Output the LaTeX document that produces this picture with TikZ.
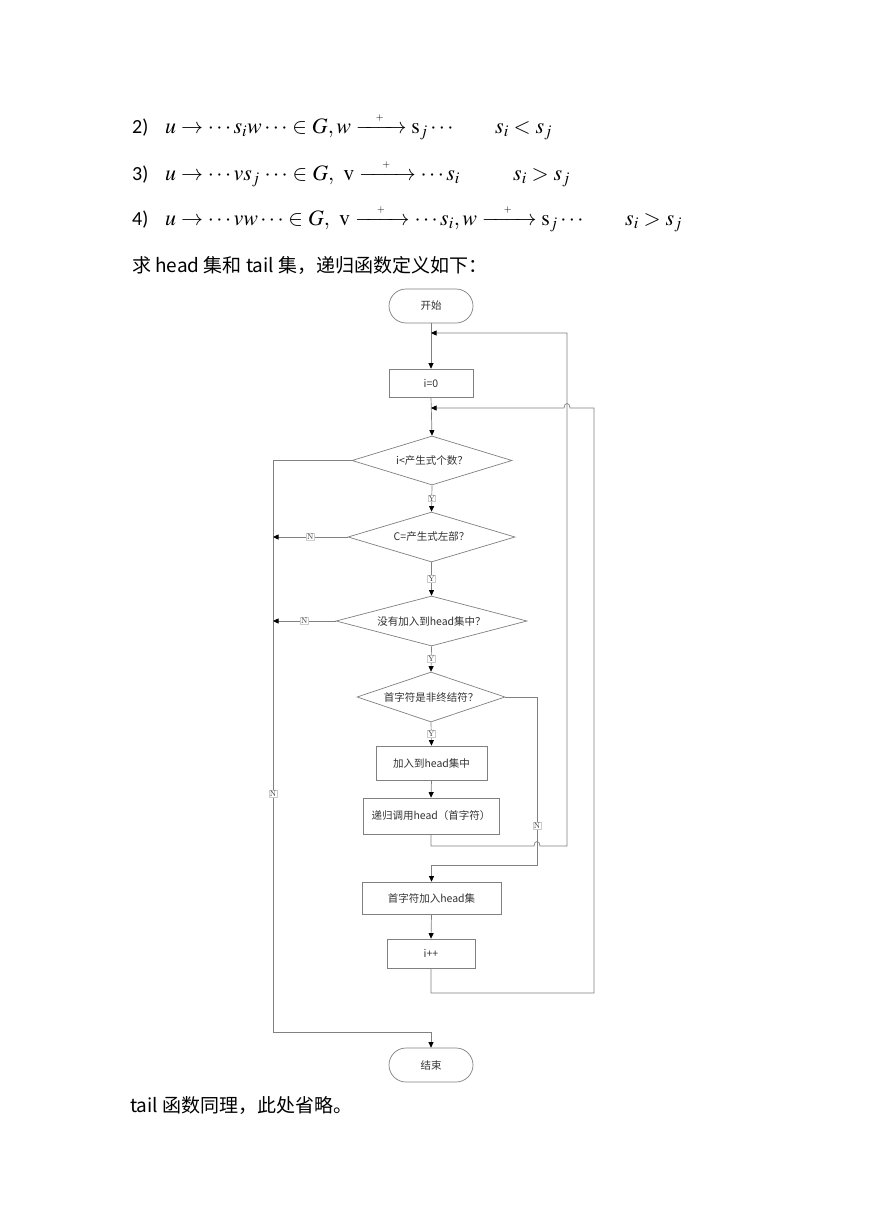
\documentclass[tikz,border=0pt]{standalone}
\usepackage{amsmath}
\usepackage{mathptmx}
\usepackage{fontspec}
\usetikzlibrary{shapes.geometric,arrows.meta}
\newfontfamily\cjk{Noto Sans CJK SC}
\newfontfamily\lat{Carlito}
\definecolor{linegray}{HTML}{808080}
\definecolor{dark}{HTML}{333333}
\newcommand{\plusarrow}[1]{\mathrel{\xrightarrow{\makebox[#1]{\fontsize{10}{10}\selectfont$+$}}}}
\begin{document}
\begin{tikzpicture}[x=1pt,y=-1pt,
  flow/.style={draw=linegray, line width=0.7pt},
  arr/.style={flow, -{Triangle[length=5.5pt,width=5pt,color=black]}},
  proc/.style={draw=linegray, line width=0.7pt, inner sep=0pt, font=\cjk\fontsize{10.5}{12}\selectfont, text=dark},
  term/.style={proc, rounded corners=17pt, minimum width=84pt, minimum height=34pt},
  dec/.style={proc, diamond, aspect=3, inner sep=0pt},
  yn/.style={draw=gray!40, fill=white, inner sep=0.6pt, font=\fontsize{8}{9}\selectfont, text=dark},
  mtxt/.style={anchor=base west, inner sep=0pt, font=\fontsize{22}{24}\selectfont},
  ltxt/.style={anchor=base west, inner sep=0pt, font=\lat\fontsize{20}{22}\selectfont},
  ctxt/.style={anchor=base west, inner sep=0pt, font=\cjk\fontsize{19}{22}\selectfont}
]
\useasboundingbox[fill=white] (0,0) rectangle (869,1228);

% top text
\node[ltxt] (k2) at (132,133) {2)};
\node[mtxt] (f2) at (165,133) {$u\rightarrow\cdots s_i w\cdots\in G, w\plusarrow{38pt}\mathrm{s}_j\cdots$};
\node[mtxt] (g2) at (495,133) {$s_i<s_j$};
\node[ltxt] (k3) at (132,180) {3)};
\node[mtxt] (f3) at (165,180) {$u\rightarrow\cdots v s_j\,\cdots\in G,\ \mathrm{v}\plusarrow{44pt}\cdots s_i$};
\node[mtxt] (g3) at (513,180) {$s_i>s_j$};
\node[ltxt] (k4) at (132,225) {4)};
\node[mtxt] (f4) at (165,225) {$u\rightarrow\cdots vw\cdots\in G,\ \mathrm{v}\plusarrow{42pt}\cdots s_i, w\plusarrow{42pt}\mathrm{s}_j\cdots$};
\node[mtxt] (g4) at (625,225) {$s_i>s_j$};
\node[ctxt] (intro) at (132,272) {求 head 集和 tail 集，递归函数定义如下：};
\node[ctxt] (outro) at (130,1112) {tail 函数同理，此处省略。};

% flowchart nodes
\node[term] (start) at (431,306) {开始};
\node[proc, minimum width=84pt, minimum height=28pt] (i0) at (431,383) {i=0};
\node[dec, minimum width=160pt, minimum height=49pt] (d1) at (432,460.5) {i<产生式个数？};
\node[dec, minimum width=167pt, minimum height=50pt] (d2) at (431.5,537) {C=产生式左部？};
\node[dec, minimum width=191pt, minimum height=50pt] (d3) at (431.5,621) {没有加入到head集中？};
\node[dec, minimum width=148pt, minimum height=50pt] (d4) at (431,697) {首字符是非终结符？};
\node[proc, minimum width=111pt, minimum height=34pt] (b1) at (431.5,763) {加入到head集中};
\node[proc, minimum width=136pt, minimum height=36pt] (b2) at (431,816) {递归调用head（首字符）};
\node[proc, minimum width=139pt, minimum height=32pt] (b3) at (431.5,898) {首字符加入head集};
\node[proc, minimum width=88pt, minimum height=29pt] (b4) at (431,953.5) {i++};
\node[term] (end) at (431,1065) {结束};

% junction and corner coordinates
\coordinate (j1) at (431,333);
\coordinate (j2) at (431,408);
\coordinate (r1) at (567,333);
\coordinate (c1) at (534,846);
\coordinate (c1b) at (540,846);
\coordinate (r2) at (594,408);
\coordinate (r2b) at (594,993);
\coordinate (c2) at (570,408);
\coordinate (c2b) at (564,408);
\coordinate (r3) at (537,865);
\coordinate (l1) at (273,1032);

% main spine
\draw[arr] (start.south) -- (i0.north);
\draw[arr] (i0.south) -- (d1.north);
\draw[arr] (d1.south) -- node[yn]{Y} (d2.north);
\draw[arr] (d2.south) -- node[yn]{Y} (d3.north);
\draw[arr] (d3.south) -- node[yn]{Y} (d4.north);
\draw[arr] (d4.south) -- node[yn]{Y} (b1.north);
\draw[arr] (b1.south) -- (b2.north);
\draw[arr] (b3.south) -- (b4.north);

% loop back from recursion
\draw[arr] (b2.south) |- (c1) .. controls (534,840) and (540,840) .. (c1b) -| (r1) -- (j1);
% loop back from i++
\draw[arr] (b4.south) |- (r2b) -- (r2) -- (c2) .. controls (570,402) and (564,402) .. (c2b) -- (j2);
% N branch of d4
\draw[arr] (d4.east) -| (r3) -| (b3.north);
\node[yn] (n4) at (537,826) {N};
% left exit
\draw[arr] (d1.west) -| (l1) -| (end.north);
\node[yn] (n1) at (273,794) {N};
\draw[arr] (d2.west) -- node[yn]{N} (d2.west -| l1);
\draw[arr] (d3.west) -- node[yn]{N} (d3.west -| l1);
\end{tikzpicture}
\end{document}
